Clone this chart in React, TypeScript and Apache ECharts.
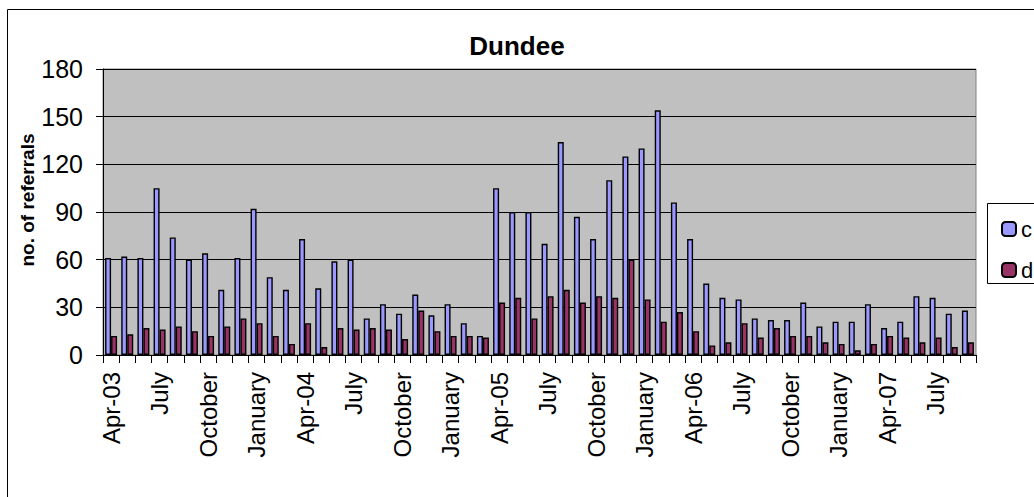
import React, { useEffect, useRef } from "react";
import * as echarts from "echarts";

const months: string[] = [
  "Apr-03", "May", "June", "July", "August", "September", "October", "November", "December", "January", "February", "March",
  "Apr-04", "May", "June", "July", "August", "September", "October", "November", "December", "January", "February", "March",
  "Apr-05", "May", "June", "July", "August", "September", "October", "November", "December", "January", "February", "March",
  "Apr-06", "May", "June", "July", "August", "September", "October", "November", "December", "January", "February", "March",
  "Apr-07", "May", "June", "July", "August", "September",
];

const seriesC: number[] = [
  61, 62, 61, 105, 74, 60, 64, 41, 61, 92, 49, 41,
  73, 42, 59, 60, 23, 32, 26, 38, 25, 32, 20, 12,
  105, 90, 90, 70, 134, 87, 73, 110, 125, 130, 154, 96,
  73, 45, 36, 35, 23, 22, 22, 33, 18, 21, 21, 32,
  17, 21, 37, 36, 26, 28,
];

const seriesD: number[] = [
  12, 13, 17, 16, 18, 15, 12, 18, 23, 20, 12, 7,
  20, 5, 17, 16, 17, 16, 10, 28, 15, 12, 12, 11,
  33, 36, 23, 37, 41, 33, 37, 36, 60, 35, 21, 27,
  15, 6, 8, 20, 11, 17, 12, 12, 8, 7, 3, 7,
  12, 11, 8, 11, 5, 8,
];

const yTicks = { min: 0, max: 180, interval: 30 };
const FONT = 'Arial, "Liberation Sans", sans-serif';

export default function App() {
  const ref = useRef<HTMLDivElement>(null);
  useEffect(() => {
    if (!ref.current) return;
    const chart = echarts.init(ref.current, null, { renderer: "svg" });
    chart.setOption({
      animation: false,
      backgroundColor: "#ffffff",
      textStyle: { fontFamily: FONT },
      grid: {
        left: 103,
        right: 58,
        top: 69,
        bottom: 142,
        containLabel: false,
        show: true,
        backgroundColor: "#C0C0C0",
        borderColor: "#808080",
        borderWidth: 1,
      },
      legend: {
        orient: "vertical",
        left: 996,
        top: 213,
        itemWidth: 14,
        itemHeight: 14,
        itemGap: 19,
        textStyle: { fontSize: 22, color: "#000", fontFamily: FONT, lineHeight: 22 },
        data: ["c", "d"],
      },
      xAxis: {
        type: "category",
        data: months,
        boundaryGap: true,
        axisLine: { lineStyle: { color: "#000", width: 1 } },
        axisTick: { show: true, interval: 0, length: 8, lineStyle: { color: "#000" } },
        axisLabel: {
          interval: 2,
          rotate: 90,
          fontSize: 24,
          color: "#000",
          fontFamily: FONT,
          margin: 17,
        },
        splitLine: { show: false },
      },
      yAxis: {
        type: "value",
        min: yTicks.min,
        max: yTicks.max,
        interval: yTicks.interval,
        axisLine: { show: true, lineStyle: { color: "#000", width: 1 } },
        axisTick: { show: true, length: 7, lineStyle: { color: "#000" } },
        axisLabel: { fontSize: 25, color: "#000", fontFamily: FONT, margin: 20 },
        splitLine: { show: true, lineStyle: { color: "#000", width: 1 } },
      },
      series: [
        {
          name: "c",
          type: "bar",
          data: seriesC,
          barWidth: 6,
          barGap: "0%",
          itemStyle: { color: "#9999FF", borderColor: "#000", borderWidth: 1.4 },
        },
        {
          name: "d",
          type: "bar",
          data: seriesD,
          barWidth: 6,
          barGap: "0%",
          itemStyle: { color: "#993366", borderColor: "#000", borderWidth: 1.4 },
        },
      ],
      graphic: [
        {
          type: "rect",
          z: -10,
          silent: true,
          shape: { x: 7.5, y: 9.5, width: 1100, height: 600 },
          style: { fill: "none", stroke: "#000", lineWidth: 1 },
        },
        {
          type: "rect",
          z: -5,
          silent: true,
          shape: { x: 987.5, y: 203.5, width: 100, height: 80 },
          style: { fill: "#fff", stroke: "#000", lineWidth: 1 },
        },
        {
          type: "text",
          x: 517,
          y: 46,
          style: {
            text: "Dundee",
            fontSize: 26,
            fontWeight: "bold",
            fontFamily: FONT,
            fill: "#000",
            align: "center",
            verticalAlign: "middle",
          },
        },
        {
          type: "text",
          x: 27,
          y: 200,
          rotation: Math.PI / 2,
          style: {
            text: "no. of referrals",
            fontSize: 19,
            fontWeight: "bold",
            fontFamily: FONT,
            fill: "#000",
            align: "center",
            verticalAlign: "middle",
          },
        },
      ],
    });
    return () => chart.dispose();
  }, []);
  return (
    <div
      ref={ref}
      style={{ position: "fixed", left: 0, top: 0, width: 1034, height: 497 }}
    />
  );
}
